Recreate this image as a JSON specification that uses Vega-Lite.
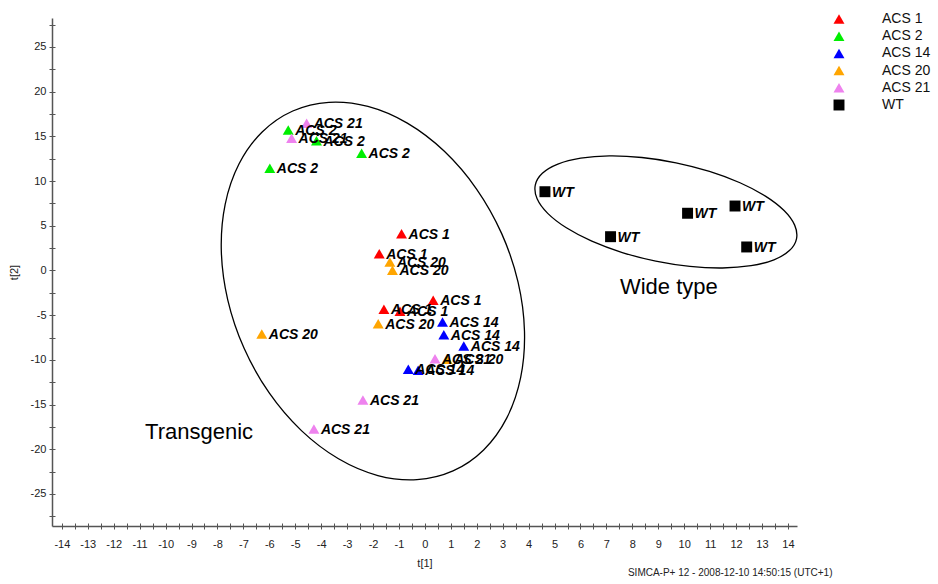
{
  "$schema": "https://vega.github.io/schema/vega-lite/v6.json",
  "width": 745,
  "height": 508,
  "autosize": {"type": "none"},
  "padding": {"left": 52, "top": 18, "right": 141, "bottom": 58},
  "background": "white",
  "config": {
    "view": {"stroke": null},
    "font": "Liberation Sans",
    "axis": {"grid": false, "labelFont": "Liberation Sans", "titleFont": "Liberation Sans", "domainColor": "#555555", "tickColor": "#555555", "labelColor": "#222222", "titleColor": "#222222", "titleFontWeight": "normal", "labelFontSize": 11, "titleFontSize": 11, "labelOverlap": false, "labelFlush": false},
    "legend": {"title": null, "orient": "none", "legendX": 780, "legendY": -6, "padding": 0, "labelOffset": 36, "labelFontSize": 14, "labelFont": "Liberation Sans", "labelColor": "#111111", "rowPadding": 3.2, "symbolStrokeWidth": 0}
  },
  "datasets": {
    "scores": [
      {"t1": -0.90, "t2": 4.12, "group": "ACS 1"},
      {"t1": -1.76, "t2": 1.88, "group": "ACS 1"},
      {"t1": 0.32, "t2": -3.33, "group": "ACS 1"},
      {"t1": -1.58, "t2": -4.34, "group": "ACS 1"},
      {"t1": -0.96, "t2": -4.56, "group": "ACS 1"},
      {"t1": -5.27, "t2": 15.72, "group": "ACS 2"},
      {"t1": -4.18, "t2": 14.52, "group": "ACS 2"},
      {"t1": -2.44, "t2": 13.11, "group": "ACS 2"},
      {"t1": -5.98, "t2": 11.43, "group": "ACS 2"},
      {"t1": 0.68, "t2": -5.76, "group": "ACS 14"},
      {"t1": 0.73, "t2": -7.18, "group": "ACS 14"},
      {"t1": 1.50, "t2": -8.45, "group": "ACS 14"},
      {"t1": -0.64, "t2": -11.05, "group": "ACS 14"},
      {"t1": -0.26, "t2": -11.16, "group": "ACS 14"},
      {"t1": -1.35, "t2": 0.95, "group": "ACS 20"},
      {"t1": -1.25, "t2": 0.02, "group": "ACS 20"},
      {"t1": -1.80, "t2": -5.95, "group": "ACS 20"},
      {"t1": -6.29, "t2": -7.10, "group": "ACS 20"},
      {"t1": 0.86, "t2": -9.93, "group": "ACS 20"},
      {"t1": -4.56, "t2": 16.47, "group": "ACS 21"},
      {"t1": -5.14, "t2": 14.79, "group": "ACS 21"},
      {"t1": 0.39, "t2": -9.87, "group": "ACS 21"},
      {"t1": -2.39, "t2": -14.49, "group": "ACS 21"},
      {"t1": -4.28, "t2": -17.73, "group": "ACS 21"},
      {"t1": 4.63, "t2": 8.81, "group": "WT"},
      {"t1": 7.16, "t2": 3.78, "group": "WT"},
      {"t1": 10.13, "t2": 6.40, "group": "WT"},
      {"t1": 11.96, "t2": 7.21, "group": "WT"},
      {"t1": 12.41, "t2": 2.63, "group": "WT"}
    ],
    "ellipses": [
      {"e": "T", "i": 0, "x": 1.085, "y": -22.423},
      {"e": "T", "i": 1, "x": 2.265, "y": -20.077},
      {"e": "T", "i": 2, "x": 3.155, "y": -16.519},
      {"e": "T", "i": 3, "x": 3.692, "y": -11.992},
      {"e": "T", "i": 4, "x": 3.841, "y": -6.803},
      {"e": "T", "i": 5, "x": 3.593, "y": -1.308},
      {"e": "T", "i": 6, "x": 2.962, "y": 4.121},
      {"e": "T", "i": 7, "x": 1.993, "y": 9.112},
      {"e": "T", "i": 8, "x": 0.751, "y": 13.327},
      {"e": "T", "i": 9, "x": -0.678, "y": 16.476},
      {"e": "T", "i": 10, "x": -2.197, "y": 18.347},
      {"e": "T", "i": 11, "x": -3.705, "y": 18.811},
      {"e": "T", "i": 12, "x": -5.095, "y": 17.837},
      {"e": "T", "i": 13, "x": -6.275, "y": 15.491},
      {"e": "T", "i": 14, "x": -7.165, "y": 11.933},
      {"e": "T", "i": 15, "x": -7.702, "y": 7.406},
      {"e": "T", "i": 16, "x": -7.851, "y": 2.217},
      {"e": "T", "i": 17, "x": -7.603, "y": -3.278},
      {"e": "T", "i": 18, "x": -6.972, "y": -8.707},
      {"e": "T", "i": 19, "x": -6.003, "y": -13.698},
      {"e": "T", "i": 20, "x": -4.761, "y": -17.913},
      {"e": "T", "i": 21, "x": -3.332, "y": -21.062},
      {"e": "T", "i": 22, "x": -1.813, "y": -22.933},
      {"e": "T", "i": 23, "x": -0.305, "y": -23.397},
      {"e": "W", "i": 0, "x": 14.331, "y": 3.546},
      {"e": "W", "i": 1, "x": 14.260, "y": 5.072},
      {"e": "W", "i": 2, "x": 13.851, "y": 6.700},
      {"e": "W", "i": 3, "x": 13.132, "y": 8.315},
      {"e": "W", "i": 4, "x": 12.151, "y": 9.811},
      {"e": "W", "i": 5, "x": 10.975, "y": 11.083},
      {"e": "W", "i": 6, "x": 9.684, "y": 12.047},
      {"e": "W", "i": 7, "x": 8.367, "y": 12.635},
      {"e": "W", "i": 8, "x": 7.113, "y": 12.809},
      {"e": "W", "i": 9, "x": 6.008, "y": 12.555},
      {"e": "W", "i": 10, "x": 5.127, "y": 11.892},
      {"e": "W", "i": 11, "x": 4.530, "y": 10.864},
      {"e": "W", "i": 12, "x": 4.257, "y": 9.542},
      {"e": "W", "i": 13, "x": 4.328, "y": 8.016},
      {"e": "W", "i": 14, "x": 4.737, "y": 6.388},
      {"e": "W", "i": 15, "x": 5.456, "y": 4.773},
      {"e": "W", "i": 16, "x": 6.437, "y": 3.277},
      {"e": "W", "i": 17, "x": 7.613, "y": 2.005},
      {"e": "W", "i": 18, "x": 8.904, "y": 1.041},
      {"e": "W", "i": 19, "x": 10.221, "y": 0.453},
      {"e": "W", "i": 20, "x": 11.475, "y": 0.279},
      {"e": "W", "i": 21, "x": 12.580, "y": 0.533},
      {"e": "W", "i": 22, "x": 13.461, "y": 1.196},
      {"e": "W", "i": 23, "x": 14.058, "y": 2.224}
    ],
    "notes": [
      {"x": -10.79, "y": -18.06, "text": "Transgenic"},
      {"x": 7.52, "y": -1.85, "text": "Wide type"}
    ],
    "footer": [
      {"x": 7.83, "y": -33.8, "text": "SIMCA-P+ 12 - 2008-12-10 14:50:15 (UTC+1)"}
    ]
  },
  "layer": [
    {
      "data": {"name": "ellipses"},
      "mark": {"type": "line", "interpolate": "cardinal-closed", "color": "black", "strokeWidth": 1.3},
      "encoding": {
        "x": {"field": "x", "type": "quantitative", "scale": {"domain": [-14.38, 14.35], "nice": false, "zero": false},
          "axis": {"orient": "bottom", "values": [-14,-13.5,-13,-12.5,-12,-11.5,-11,-10.5,-10,-9.5,-9,-8.5,-8,-7.5,-7,-6.5,-6,-5.5,-5,-4.5,-4,-3.5,-3,-2.5,-2,-1.5,-1,-0.5,0,0.5,1,1.5,2,2.5,3,3.5,4,4.5,5,5.5,6,6.5,7,7.5,8,8.5,9,9.5,10,10.5,11,11.5,12,12.5,13,13.5,14], "tickSize": -3, "labels": false, "domain": false, "title": null}},
        "y": {"field": "y", "type": "quantitative", "scale": {"domain": [-28.58, 28.24], "nice": false, "zero": false},
          "axis": {"orient": "left", "values": [-27.5,-25,-22.5,-20,-17.5,-15,-12.5,-10,-7.5,-5,-2.5,0,2.5,5,7.5,10,12.5,15,17.5,20,22.5,25,27.5], "tickSize": -3, "labels": false, "domain": false, "title": null}},
        "detail": {"field": "e", "type": "nominal"},
        "order": {"field": "i", "type": "quantitative"}
      }
    },
    {
      "data": {"name": "scores"},
      "mark": {"type": "point", "filled": true, "opacity": 1, "strokeWidth": 0},
      "encoding": {
        "x": {"field": "t1", "type": "quantitative", "scale": {"domain": [-14.38, 14.35], "nice": false, "zero": false},
          "axis": {"orient": "bottom", "values": [-14,-13.5,-13,-12.5,-12,-11.5,-11,-10.5,-10,-9.5,-9,-8.5,-8,-7.5,-7,-6.5,-6,-5.5,-5,-4.5,-4,-3.5,-3,-2.5,-2,-1.5,-1,-0.5,0,0.5,1,1.5,2,2.5,3,3.5,4,4.5,5,5.5,6,6.5,7,7.5,8,8.5,9,9.5,10,10.5,11,11.5,12,12.5,13,13.5,14], "labelExpr": "datum.value % 1 === 0 ? '' + datum.value : ''", "tickSize": 3, "domainWidth": 1.5, "labelPadding": 9, "title": "t[1]", "titlePadding": 8}},
        "y": {"field": "t2", "type": "quantitative", "scale": {"domain": [-28.58, 28.24], "nice": false, "zero": false},
          "axis": {"orient": "left", "values": [-27.5,-25,-22.5,-20,-17.5,-15,-12.5,-10,-7.5,-5,-2.5,0,2.5,5,7.5,10,12.5,15,17.5,20,22.5,25,27.5], "labelExpr": "datum.value % 5 === 0 ? '' + datum.value : ''", "tickSize": 3, "domainWidth": 1.5, "labelPadding": 3, "title": "t[2]", "titlePadding": 11}},
        "color": {"field": "group", "type": "nominal", "scale": {"domain": ["ACS 1", "ACS 2", "ACS 14", "ACS 20", "ACS 21", "WT"], "range": ["#ff0000", "#00ee00", "#0000ff", "#ffa500", "#ee82ee", "#000000"]}},
        "shape": {"field": "group", "type": "nominal", "scale": {"domain": ["ACS 1", "ACS 2", "ACS 14", "ACS 20", "ACS 21", "WT"], "range": ["triangle-up", "triangle-up", "triangle-up", "triangle-up", "triangle-up", "square"]}},
        "size": {"field": "group", "type": "nominal", "scale": {"domain": ["ACS 1", "ACS 2", "ACS 14", "ACS 20", "ACS 21", "WT"], "range": [120, 120, 120, 120, 120, 70]}}
      }
    },
    {
      "data": {"name": "scores"},
      "mark": {"type": "text", "align": "left", "baseline": "middle", "dx": 7, "dy": 1, "fontSize": 14, "fontWeight": "bold", "fontStyle": "italic", "color": "black"},
      "encoding": {
        "x": {"field": "t1", "type": "quantitative", "axis": null},
        "y": {"field": "t2", "type": "quantitative", "axis": null},
        "text": {"field": "group"}
      }
    },
    {
      "data": {"name": "notes"},
      "mark": {"type": "text", "align": "left", "baseline": "middle", "fontSize": 22, "color": "black"},
      "encoding": {
        "x": {"field": "x", "type": "quantitative", "axis": null},
        "y": {"field": "y", "type": "quantitative", "axis": null},
        "text": {"field": "text"}
      }
    },
    {
      "data": {"name": "footer"},
      "mark": {"type": "text", "align": "left", "baseline": "middle", "fontSize": 10, "color": "#222222"},
      "encoding": {
        "x": {"field": "x", "type": "quantitative", "axis": null},
        "y": {"field": "y", "type": "quantitative", "axis": null},
        "text": {"field": "text"}
      }
    }
  ],
  "resolve": {"axis": {"x": "independent", "y": "independent"}}
}
